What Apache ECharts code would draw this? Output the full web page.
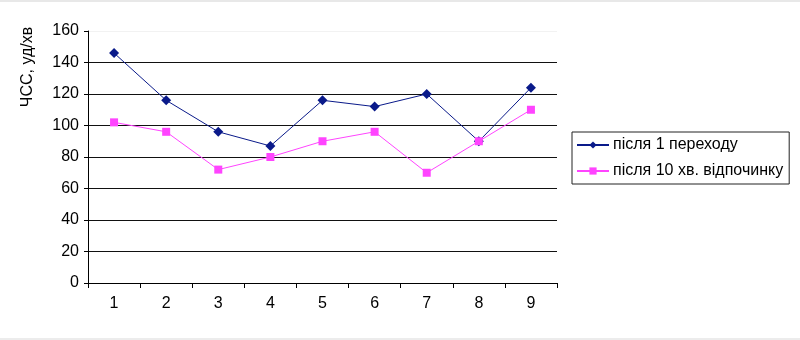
<!DOCTYPE html>
<html><head><meta charset="utf-8">
<script src="https://cdn.jsdelivr.net/npm/echarts@6/dist/echarts.min.js"></script>
<style>html,body{margin:0;padding:0;background:#fff}#c{width:800px;height:340px}</style>
</head><body><div id="c"></div>
<script>
var categories = ['1','2','3','4','5','6','7','8','9'];
var seriesNames = ['після 1 переходу', 'після 10 хв. відпочинку'];
var afterTransition = [146, 116, 96, 87, 116, 112, 120, 90, 124];
var afterRest = [102, 96, 72, 80, 90, 96, 70, 90, 110];
var yTitle = 'ЧСС, уд/хв';

var chart = echarts.init(document.getElementById('c'), null, {renderer: 'canvas'});
var font = 'Liberation Sans, Arial, sans-serif';
chart.setOption({
  animation: false,
  backgroundColor: '#fff',
  grid: {left: 88, right: 243, top: 31, bottom: 57},
  xAxis: {
    type: 'category', data: categories, boundaryGap: true,
    axisLine: {lineStyle: {color: '#000', width: 1}},
    axisTick: {show: true, length: 5, lineStyle: {color: '#000'}},
    axisLabel: {color: '#000', fontSize: 16, fontFamily: font, margin: 13}
  },
  yAxis: {
    type: 'value', min: 0, max: 160, interval: 20,
    axisLine: {show: true, lineStyle: {color: '#000', width: 1}},
    axisTick: {show: true, length: 4, lineStyle: {color: '#000'}},
    axisLabel: {color: '#000', fontSize: 16, fontFamily: font, margin: 9},
    splitLine: {show: true, lineStyle: {color: ['#000','#111','#111','#111','#111','#111','#111','#111','#f2f2f2'], width: 1}}
  },
  legend: {
    orient: 'vertical', left: 572, top: 132,
    width: 216,
    padding: [5, 6, 5, 4],
    itemGap: 10,
    itemWidth: 32, itemHeight: 9,
    borderColor: '#222', borderWidth: 1,
    textStyle: {color: '#000', fontSize: 16, fontFamily: font, padding: [0,0,0,-1]},
    data: seriesNames
  },
  graphic: [{
    type: 'text', x: 28, y: 67, rotation: Math.PI / 2,
    style: {text: yTitle, fill: '#000', font: '16px ' + font, align: 'center', verticalAlign: 'middle'}
  }, {
    type: 'rect', shape: {x: 0, y: 0, width: 800, height: 2}, style: {fill: '#e8e8e8'}, silent: true
  }, {
    type: 'rect', shape: {x: 0, y: 338, width: 800, height: 2}, style: {fill: '#ececec'}, silent: true
  }],
  series: [{
    name: seriesNames[0], type: 'line', data: afterTransition,
    symbol: 'diamond', symbolSize: 10,
    lineStyle: {color: '#0a1a8a', width: 1},
    itemStyle: {color: '#0a1a8a'}
  }, {
    name: seriesNames[1], type: 'line', data: afterRest,
    symbol: 'rect', symbolSize: 8,
    lineStyle: {color: '#ff44ff', width: 1},
    itemStyle: {color: '#ff44ff'}
  }]
});
</script></body></html>
